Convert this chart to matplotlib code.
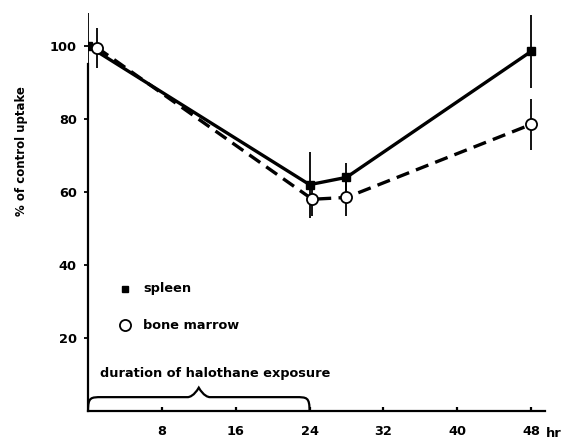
"""
Spleen and bone marrow uptake (% of control) after halothane exposure.
"""
import matplotlib.pyplot as plt
from matplotlib.path import Path
from matplotlib.patches import PathPatch

# Data
spleen_hr = [0, 24, 28, 48]
spleen_pct = [100, 62, 64, 98.5]
spleen_err = [9, 9, 4, 10]

marrow_hr = [1, 24.3, 28, 48]
marrow_pct = [99.5, 58, 58.5, 78.5]
marrow_err = [5.5, 4.5, 5, 7]

x_ticks = [8, 16, 24, 32, 40, 48]
y_ticks = [20, 40, 60, 80, 100]

exposure_start = 0
exposure_end = 24

plt.rcParams['font.family'] = 'DejaVu Sans'
plt.rcParams['font.weight'] = 'bold'

fig = plt.figure(figsize=(5.63, 4.41), dpi=100)
ax = fig.add_axes([0.1563, 0.068, 0.8117, 0.9206])
ax.set_xlim(0, 49.5)
ax.set_ylim(0, 111.2)

# error bars
ax.errorbar(spleen_hr, spleen_pct, yerr=spleen_err, fmt='none',
            ecolor='black', elinewidth=1.3, capsize=0, zorder=2)
ax.errorbar(marrow_hr, marrow_pct, yerr=marrow_err, fmt='none',
            ecolor='black', elinewidth=1.3, capsize=0, zorder=2)

# lines
ax.plot(spleen_hr, spleen_pct, color='black', lw=2.4, solid_capstyle='butt',
        zorder=3)
ax.plot(marrow_hr, marrow_pct, color='black', lw=2.4, ls=(0, (4, 2.2)),
        zorder=3)

# markers
ax.plot(spleen_hr, spleen_pct, 's', color='black', ms=6, zorder=4)
ax.plot(marrow_hr, marrow_pct, 'o', mfc='white', mec='black', mew=1.3,
        ms=8, zorder=5)

# legend drawn by hand like in the original
ax.plot([4], [33.5], 's', color='black', ms=5)
ax.text(6, 33.5, 'spleen', fontsize=9.3, va='center')
ax.plot([4], [23.5], 'o', mfc='white', mec='black', mew=1.3, ms=8)
ax.text(6, 23.5, 'bone marrow', fontsize=9.3, va='center')

# brace for exposure
x0, x1 = exposure_start, exposure_end
xm = (x0 + x1) / 2
h, top = 3.8, 6.4
verts = [(x0, 0), (x0, h), (x0 + 0.3, h), (x0 + 1.5, h),
         (xm - 1.2, h), (xm - 1.0, h), (xm - 0.5, h + 0.4), (xm, top),
         (xm + 0.5, h + 0.4), (xm + 1.0, h), (xm + 1.2, h),
         (x1 - 1.5, h), (x1 - 0.3, h), (x1, h), (x1, 0)]
codes = [Path.MOVETO, Path.CURVE4, Path.CURVE4, Path.CURVE4,
         Path.LINETO, Path.CURVE4, Path.CURVE4, Path.CURVE4,
         Path.CURVE4, Path.CURVE4, Path.CURVE4,
         Path.LINETO, Path.CURVE4, Path.CURVE4, Path.CURVE4]
ax.add_patch(PathPatch(Path(verts, codes), fill=False, lw=1.6,
                       edgecolor='black', zorder=3))
ax.text(1.3, 10.2, 'duration of halothane exposure', fontsize=9.3,
        va='center')

# axes
for side in ['top', 'right']:
    ax.spines[side].set_visible(False)
ax.spines['left'].set_bounds(0, 95)
ax.spines['left'].set_linewidth(1.6)
ax.spines['bottom'].set_linewidth(1.6)
ax.set_xticks(x_ticks)
ax.set_yticks(y_ticks)
ax.tick_params(axis='x', direction='in', length=3, width=1.6, pad=10,
               labelsize=9.3)
ax.tick_params(axis='y', direction='out', length=3, width=1.3, pad=5,
               labelsize=9.3)
ax.text(49.6, -6.2, 'hr', fontsize=9.3, va='center', ha='left',
        clip_on=False)
ax.set_ylabel('% of control uptake', fontsize=8.5, fontweight='bold')
ax.yaxis.set_label_coords(-0.131, 0.64)

fig.savefig('out.png', dpi=100)
